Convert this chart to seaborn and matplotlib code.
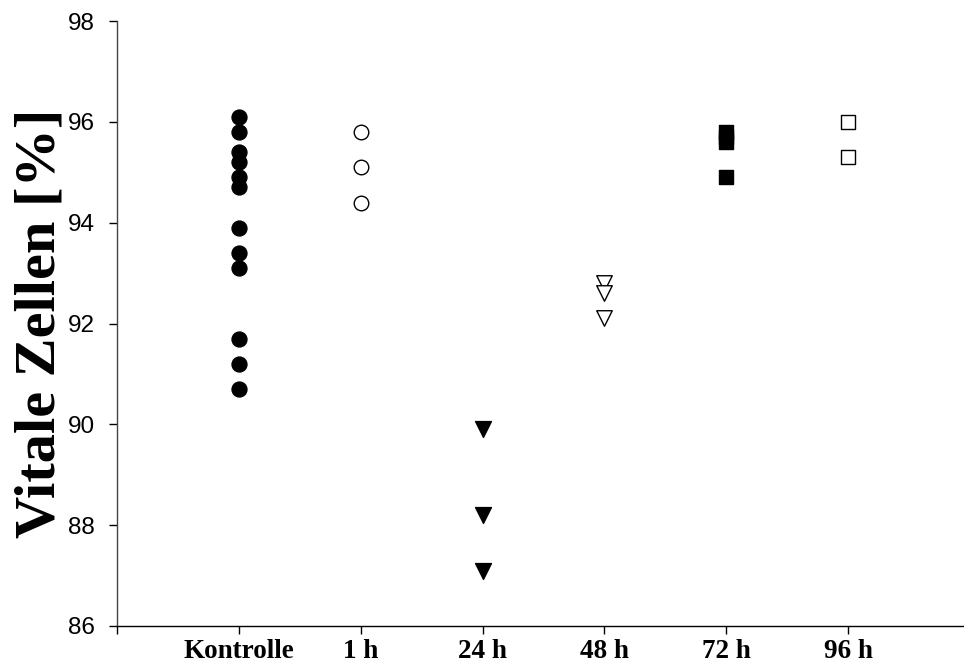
import pandas as pd
import matplotlib.pyplot as plt
import seaborn as sns

# group names and measured viability values
groups = ['Kontrolle', '1 h', '24 h', '48 h', '72 h', '96 h']
kontrolle = [96.1, 95.8, 95.4, 95.2, 94.9, 94.7, 93.9, 93.4, 93.1, 91.7, 91.2, 90.7]
h1 = [95.8, 95.1, 94.4]
h24 = [89.9, 88.2, 87.1]
h48 = [92.8, 92.6, 92.1]
h72 = [95.8, 95.7, 95.6, 94.9]
h96 = [96.0, 95.3]

values = [kontrolle, h1, h24, h48, h72, h96]
rows = []
for i, (g, vals) in enumerate(zip(groups, values)):
    for v in vals:
        rows.append({'group': g, 'pos': i + 1, 'value': v})
data = pd.DataFrame(rows)

# marker style per group: (marker, face, size)
styles = {
    'Kontrolle': ('o', 'black', 115),
    '1 h': ('o', 'white', 110),
    '24 h': ('v', 'black', 130),
    '48 h': ('v', 'white', 125),
    '72 h': ('s', 'black', 105),
    '96 h': ('s', 'white', 95),
}

sns.set_style('white')
plt.rcParams.update({'text.color': 'black', 'axes.labelcolor': 'black',
                     'xtick.color': 'black', 'ytick.color': 'black'})
fig = plt.figure(figsize=(9.64, 6.62), dpi=100)
ax = fig.add_axes([117 / 964, 36 / 662, 1 - 117 / 964, 605 / 662])

for g in groups:
    m, fc, s = styles[g]
    sub = data[data['group'] == g]
    sns.scatterplot(data=sub, x='pos', y='value', marker=m, color=fc,
                    edgecolor='black', linewidth=1.0, s=s, ax=ax, legend=False)

ax.set_xlim(0, 6.95)
ax.set_ylim(86, 98)
ax.set_yticks(range(86, 99, 2))
ax.set_xticks(range(0, 7))
ax.set_xticklabels([''] + groups, family='Liberation Serif', fontweight='bold', fontsize=19.5)
for lbl in ax.get_yticklabels():
    lbl.set_family('Liberation Sans')
    lbl.set_fontsize(17.5)
ax.tick_params(axis='both', direction='out', length=6, width=1, color='black',
               labelcolor='black', bottom=True, left=True)
ax.tick_params(axis='x', pad=3)
ax.tick_params(axis='y', pad=10)

ax.set_xlabel('')
ax.set_ylabel('Vitale Zellen [%]', family='Liberation Serif', fontweight='bold',
              fontsize=42, labelpad=1, color='black')

for side in ['top', 'right']:
    ax.spines[side].set_visible(False)
ax.spines['left'].set_color('#444444')
ax.spines['bottom'].set_color('black')
ax.spines['left'].set_linewidth(1)
ax.spines['bottom'].set_linewidth(1)

fig.savefig('out.png', dpi=100)
